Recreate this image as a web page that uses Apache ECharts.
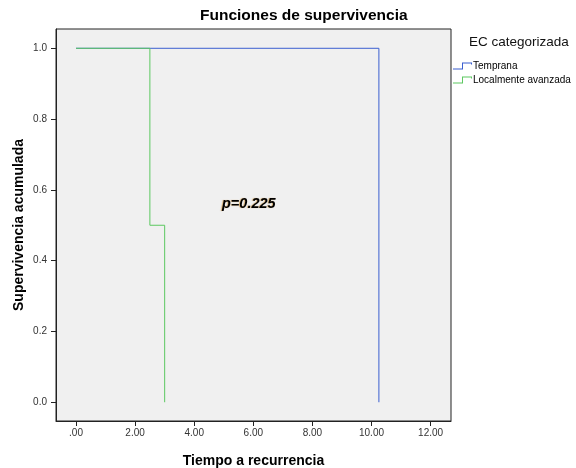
<!DOCTYPE html>
<html>
<head>
<meta charset="utf-8">
<script src="https://cdn.jsdelivr.net/npm/echarts@6/dist/echarts.min.js"></script>
<style>html,body{margin:0;padding:0;background:#fff}#c{width:576px;height:468px}</style>
</head>
<body>
<div id="c"></div>
<script>
const xTicks = [0, 2, 4, 6, 8, 10, 12];
const yTicks = [0, 0.2, 0.4, 0.6, 0.8, 1.0];
const seriesNames = ['Temprana', 'Localmente avanzada'];
const tempranaTime = [0, 10.25];
const tempranaSurv = [1.0, 0.0];
const localTime = [0, 2.5, 3.0];
const localSurv = [1.0, 0.5, 0.0];
const pText = 'p=0.225';

const pair = (t, s) => t.map((v, i) => [v, s[i]]);
const stepIcon = 'path://M0,6 L9,6 L9,0 L19,0 L19,2 L18,2 L18,1 L10,1 L10,7 L0,7 Z';

const chart = echarts.init(document.getElementById('c'));
chart.setOption({
  animation: false,
  backgroundColor: '#ffffff',
  title: {
    text: 'Funciones de supervivencia',
    left: 195, top: 3,
    textStyle: { fontFamily: 'Liberation Sans', fontSize: 15.5, fontWeight: 'bold', color: '#000' }
  },
  legend: {
    left: 448, top: 56, orient: 'vertical',
    itemWidth: 19, itemHeight: 7, itemGap: 4,
    icon: stepIcon,
    data: seriesNames,
    textStyle: { fontFamily: 'Liberation Sans', fontSize: 10, color: '#000', padding: [0, 0, 0, -4] }
  },
  grid: {
    left: 56, right: 125, top: 29, bottom: 47,
    containLabel: false, outerBoundsMode: 'none',
    show: true, backgroundColor: '#f0f0f0', borderColor: '#222', borderWidth: 1
  },
  xAxis: {
    type: 'value', min: -0.677, max: 12.69,
    name: 'Tiempo a recurrencia', nameLocation: 'middle', nameGap: 33,
    nameTextStyle: { fontFamily: 'Liberation Sans', fontSize: 14, fontWeight: 'bold', color: '#000' },
    axisLine: { show: true, onZero: false, lineStyle: { color: '#222' } },
    axisTick: { show: true, customValues: xTicks, length: 5, lineStyle: { color: '#222' } },
    axisLabel: { customValues: xTicks, formatter: v => v === 0 ? '.00' : v.toFixed(2),
      fontFamily: 'Liberation Sans', fontSize: 10, color: '#333', margin: 7 },
    splitLine: { show: false }
  },
  yAxis: {
    type: 'value', min: -0.053, max: 1.0545,
    name: 'Supervivencia acumulada', nameLocation: 'middle', nameGap: 30, nameMoveOverlap: false,
    nameTextStyle: { fontFamily: 'Liberation Sans', fontSize: 14, fontWeight: 'bold', color: '#000' },
    axisLine: { show: true, onZero: false, lineStyle: { color: '#222' } },
    axisTick: { show: true, customValues: yTicks, length: 5, lineStyle: { color: '#222' } },
    axisLabel: { customValues: yTicks, formatter: v => v.toFixed(1),
      fontFamily: 'Liberation Sans', fontSize: 10, color: '#333', margin: 9 },
    splitLine: { show: false }
  },
  series: [
    { name: seriesNames[0], type: 'line', step: 'end', showSymbol: false, symbol: 'none',
      data: pair(tempranaTime, tempranaSurv), lineStyle: { color: '#3b5fd0', width: 1 }, itemStyle: { color: '#3b5fd0' }, z: 2 },
    { name: seriesNames[1], type: 'line', step: 'end', showSymbol: false, symbol: 'none',
      data: pair(localTime, localSurv), lineStyle: { color: '#5cc860', width: 1 }, itemStyle: { color: '#5cc860' }, z: 3 }
  ],
  graphic: [
    { type: 'text', left: 469, top: 35,
      style: { text: 'EC categorizada', font: '13.5px "Liberation Sans"', fill: '#111' } },
    { type: 'text', left: 222, top: 196,
      style: { text: pText, font: 'italic bold 14.5px "Liberation Sans"', fill: '#000',
        textShadowColor: 'rgba(200,120,0,0.5)', textShadowBlur: 1, textShadowOffsetX: -1 } }
  ]
});
</script>
</body>
</html>
